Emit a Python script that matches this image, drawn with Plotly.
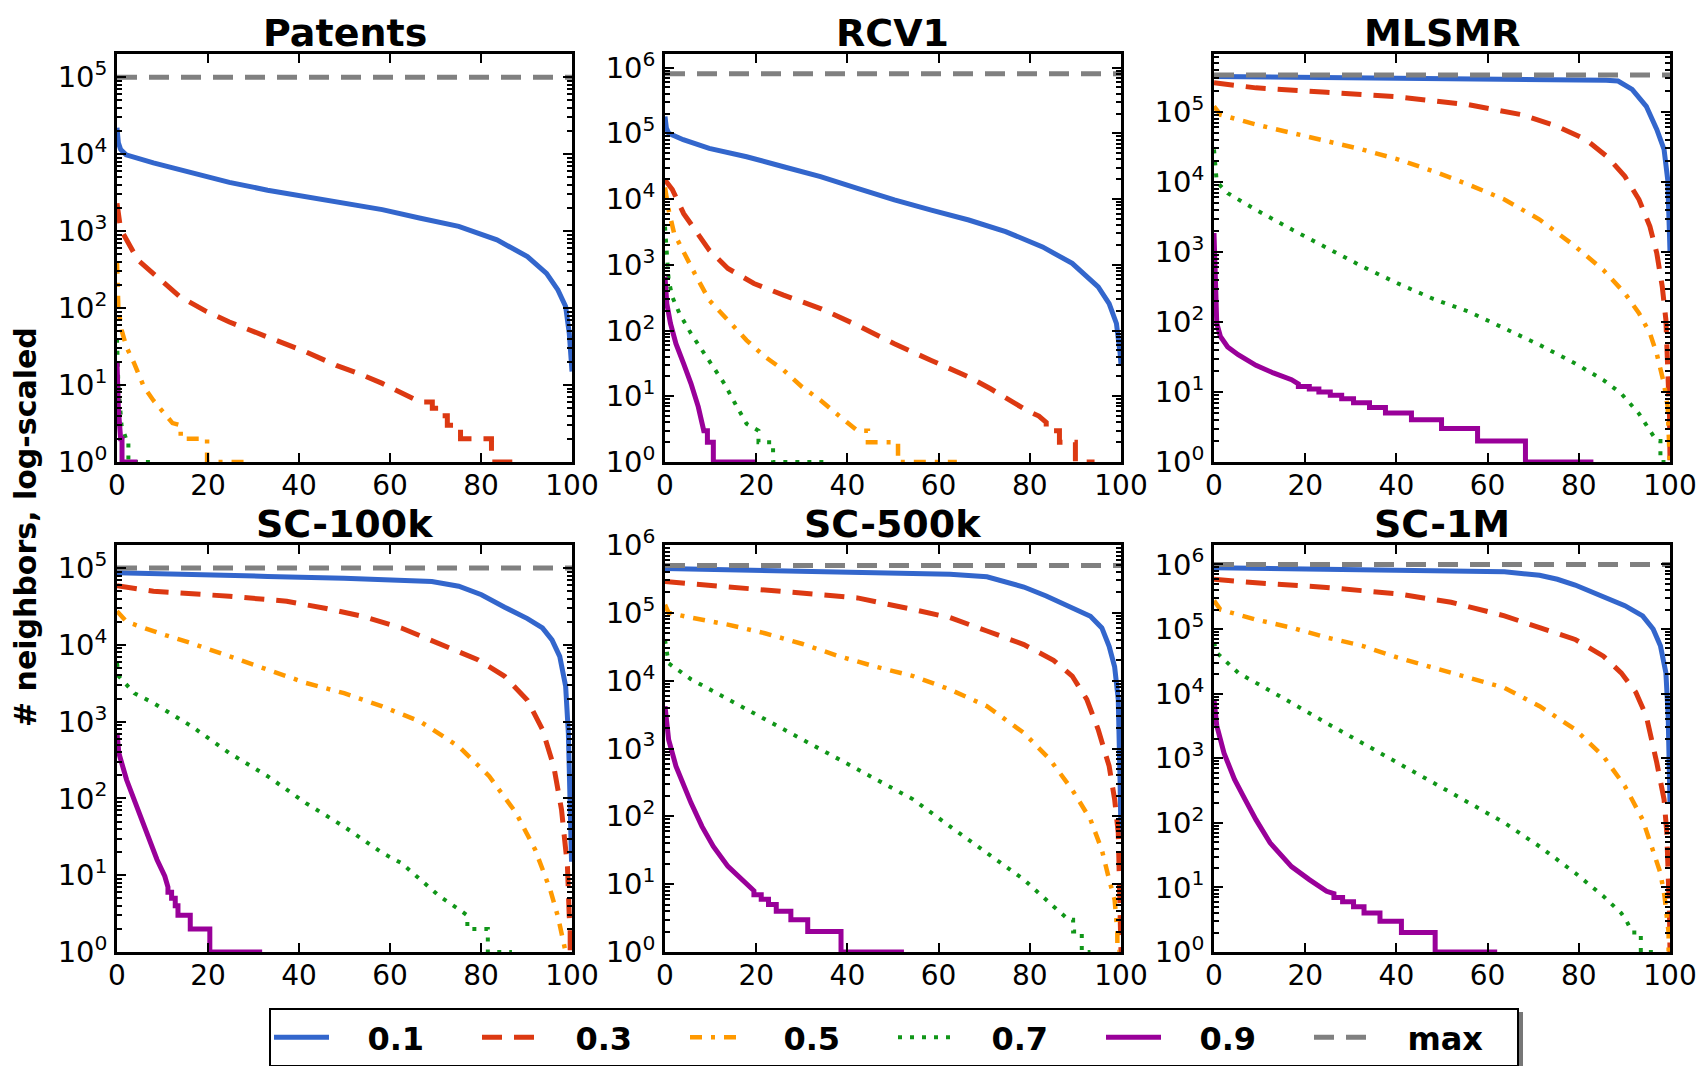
import math
import plotly.graph_objects as go

# ---------------- data ----------------
LEVELS = ["0.1", "0.3", "0.5", "0.7", "0.9"]
TITLES = ["Patents", "RCV1", "MLSMR", "SC-100k", "SC-500k", "SC-1M"]
MAXES = [100000, 804414, 335000, 100000, 500000, 1000000]
X_TICKS = [0, 20, 40, 60, 80, 100]
Y_LABEL = "# neighbors, log-scaled"

# Patents
PAT_X_01 = [0, 0.3, 0.8, 2, 8, 16.4, 24.7, 33.1, 41.5, 49.9, 58.3, 66.7, 75.1, 83.5, 90.2, 94.4, 96.9, 98.6, 99.4, 99.8, 100]
PAT_Y_01 = [22000, 14000, 11500, 9800, 7700, 5700, 4300, 3400, 2800, 2300, 1900, 1470, 1150, 770, 466, 283, 172, 105, 47, 22, 15]
PAT_X_03 = [0, 0.3, 0.8, 1.3, 4.6, 9.6, 13.8, 19.7, 24.7, 33.1, 41.5, 48.2, 53.3, 58.3, 62.5, 64.5, 66.7, 69.3, 69.3, 71, 71, 72.6, 72.6, 75.5, 75.5, 82.3, 82.3, 89]
PAT_Y_03 = [2300, 1500, 1050, 940, 420, 232, 141, 90, 66, 42, 27, 18, 14, 10.5, 8, 7, 6, 6, 5, 5, 4, 4, 3, 3, 2, 2, 1, 1]
PAT_X_05 = [0, 0.3, 1, 2.1, 3.8, 5.9, 8, 10, 12.2, 14, 14, 19.8, 19.8, 29]
PAT_Y_05 = [400, 100, 52, 31, 19, 9.5, 6.3, 4.5, 3.2, 3, 2, 2, 1, 1]
PAT_X_07 = [0, 0.3, 1, 2, 2.5, 2.5, 8]
PAT_Y_07 = [40, 10, 3, 2, 2, 1, 1]
PAT_X_09 = [0, 0.3, 0.8, 1.1, 1.1, 4.5]
PAT_Y_09 = [20, 5, 2, 2, 1, 1]

# RCV1
RCV_X_01 = [0, 0.3, 0.8, 4, 9.7, 17.9, 26, 34.1, 42.2, 50.3, 58.4, 66.6, 74.7, 82.8, 89.3, 95, 97.4, 99, 99.8, 100]
RCV_Y_01 = [180000, 120000, 100000, 80000, 59000, 44000, 31000, 22000, 14500, 9700, 6800, 4800, 3200, 1870, 1050, 460, 256, 128, 45, 30]
RCV_X_03 = [0, 1.6, 4.1, 6.5, 9.7, 13.8, 19.5, 26, 34.1, 42.2, 50.3, 58.4, 66.6, 71.4, 75.5, 79.5, 82, 83.6, 83.6, 86.5, 86.5, 90, 90, 94.2]
RCV_Y_03 = [19500, 14000, 6000, 3400, 1670, 880, 520, 345, 216, 120, 63, 35, 19.7, 13, 8.7, 6, 5, 4, 3, 3, 2, 2, 1, 1]
RCV_X_05 = [0, 0.8, 2, 4.1, 6.5, 9.7, 13.8, 17.9, 21.9, 26, 30, 34.1, 38.1, 42.2, 44.5, 44.5, 51.1, 51.1, 64]
RCV_Y_05 = [15000, 6800, 3000, 1500, 740, 290, 144, 71, 40, 25, 14, 8.7, 5.1, 3, 3, 2, 2, 1, 1]
RCV_X_07 = [0, 0.4, 0.8, 1.6, 3.2, 5.7, 8.1, 10.6, 13, 15.4, 17.9, 20.5, 20.5, 23.7, 23.7, 35.7]
RCV_Y_07 = [3800, 1500, 590, 325, 180, 90, 50, 28, 15.6, 7.7, 3.8, 3, 2, 2, 1, 1]
RCV_X_09 = [0, 0.4, 1.2, 2.4, 4.1, 5.7, 7.3, 8.5, 9.3, 9.3, 10.6, 10.6, 19.9]
RCV_Y_09 = [660, 257, 128, 63, 31, 15.6, 6.9, 3, 3, 2, 2, 1, 1]

# MLSMR
MLS_X_01 = [0, 20, 40, 60, 80, 86, 88.6, 91.7, 94.8, 97.1, 98.7, 99.5, 99.85, 100]
MLS_Y_01 = [320000, 312000, 305000, 298000, 290000, 282000, 275000, 209000, 120000, 56000, 29000, 10700, 2100, 1000]
MLS_X_03 = [0, 9.2, 24.7, 40.3, 55.9, 67.5, 75.3, 81.6, 86.2, 90.1, 93.2, 95.6, 97.1, 98.3, 99.1, 99.6, 99.9, 100]
MLS_Y_03 = [260000, 220000, 190000, 164000, 126000, 91000, 62000, 40000, 23000, 12000, 5600, 2300, 960, 320, 107, 23, 4.4, 1]
MLS_X_05 = [0, 1.4, 9.2, 17, 24.7, 32.5, 40.3, 48.1, 55.9, 63.7, 71.4, 79.2, 85.4, 90.1, 93.2, 95.6, 97.1, 98.7, 99.5, 99.8, 99.95]
MLS_Y_05 = [120000, 91000, 66000, 50000, 38000, 29000, 21000, 14200, 9100, 5600, 2900, 1200, 550, 257, 133, 69, 35, 13, 6.1, 2.5, 1]
MLS_X_07 = [0, 0.6, 3, 9.2, 17, 24.7, 32.5, 40.3, 48.1, 55.9, 63.7, 71.4, 79.2, 85.4, 89.3, 93.2, 95.6, 97.1, 97.9, 97.9, 99]
MLS_Y_07 = [29000, 10000, 6900, 4000, 2100, 1130, 620, 355, 213, 140, 81, 47, 25.6, 14.8, 9.5, 4.9, 2.8, 2, 2, 1, 1]
MLS_X_09 = [0, 0.3, 0.6, 1.4, 3, 5.3, 9.2, 13, 17, 18.5, 18.5, 20.9, 20.9, 23, 23, 25.5, 25.5, 28, 28, 30.6, 30.6,
            34.1, 34.1, 37.6, 37.6, 43.3, 43.3, 49.9, 49.9, 57.8, 57.8, 68.3, 68.3, 83.2]
MLS_Y_09 = [1860, 206, 96, 62, 44, 34, 24, 18.7, 15, 13, 12, 12, 11, 11, 10, 10, 9, 9, 8, 8, 7,
            7, 6, 6, 5, 5, 4, 4, 3, 3, 2, 2, 1, 1]

# SC-100k
S1_X_01 = [0, 16.4, 33.1, 49.9, 62.5, 69.2, 75.1, 80.1, 85.2, 90.2, 93.5, 95.6, 97.3, 98.6, 99.2, 99.7, 99.9]
S1_Y_01 = [87000, 81000, 78000, 74000, 70000, 67000, 58000, 45000, 31000, 22000, 16600, 11600, 7100, 2900, 710, 96, 15]
S1_X_03 = [0, 8, 24.7, 37.3, 45.7, 54.1, 62.5, 70.9, 79.3, 85.2, 90.2, 93.5, 96, 97.7, 99, 99.4, 99.6, 99.6, 99.8]
S1_Y_03 = [59000, 50000, 43000, 37000, 30000, 23500, 16600, 10500, 6400, 3900, 1900, 790, 260, 71, 13, 2.9, 2, 1, 1]
S1_X_05 = [0, 2.1, 9.6, 16.4, 24.7, 33.1, 41.5, 49.9, 58.3, 66.7, 75.1, 81.8, 87.7, 91.9, 95.2, 96.9, 98.2, 98.6, 99.2]
S1_Y_05 = [27500, 20000, 14000, 10500, 7100, 4800, 3200, 2350, 1580, 1000, 475, 195, 65, 21.5, 6.5, 2.9, 1.3, 1, 1]
S1_X_07 = [0, 0.4, 3.8, 8, 16.4, 24.7, 33.1, 41.5, 49.9, 58.3, 62.5, 66.7, 70.9, 75.1, 77, 77, 81.5, 81.5, 86.8]
S1_Y_07 = [5800, 3900, 2350, 1750, 870, 390, 195, 87, 43, 19.5, 14.4, 8.7, 5.3, 3.6, 3, 2, 2, 1, 1]
S1_X_09 = [0, 0.4, 2.1, 3.8, 5.5, 7.1, 8.8, 10.5, 11.2, 11.2, 12, 12, 12.8, 12.8, 13.4, 13.4, 16.1, 16.1, 20.4, 20.4, 31.9]
S1_Y_09 = [710, 390, 175, 96, 53, 29, 15.9, 9.7, 7, 6, 6, 5, 5, 4, 4, 3, 3, 2, 2, 1, 1]

# SC-500k
S5_X_01 = [0, 21.9, 46.3, 62.5, 70.6, 74.7, 78.7, 83.6, 88.5, 93.3, 95.8, 97.4, 98.6, 99.4, 99.8, 100]
S5_Y_01 = [450000, 420000, 390000, 370000, 340000, 290000, 240000, 177000, 126000, 89000, 60000, 32000, 16000, 5300, 310, 50]
S5_X_03 = [0, 13.8, 30, 42.2, 54.4, 62.5, 70.6, 78.7, 85.2, 89.3, 92.5, 95, 97.4, 98.6, 99.4, 99.7, 99.9, 100]
S5_Y_03 = [290000, 240000, 200000, 166000, 112000, 85000, 54000, 34000, 20000, 11700, 5300, 1900, 550, 178, 57, 10, 3.4, 1]
S5_X_05 = [0, 0.8, 5.7, 13.8, 21.9, 30, 38.1, 46.3, 54.4, 62.5, 70.6, 78.7, 84.4, 89.3, 93.3, 95.8, 97.4, 98.6, 99.2, 99.2, 99.5]
S5_Y_05 = [132000, 100000, 85000, 67000, 50000, 35000, 23000, 16000, 11700, 7400, 4200, 1700, 690, 246, 90, 32, 11.7, 5.9, 2, 1, 1]
S5_X_07 = [0, 0.8, 5.7, 13.8, 21.9, 30, 38.1, 46.3, 54.4, 62.5, 70.6, 78.7, 85.2, 88.5, 89.5, 89.5, 91.4, 91.4, 93.3]
S5_Y_07 = [40000, 18000, 10500, 5300, 2700, 1350, 690, 347, 178, 71, 29, 11.7, 4.7, 3, 3, 2, 2, 1, 1]
S5_X_09 = [0, 0.8, 2.4, 4.1, 5.7, 8.1, 10.6, 13.8, 17, 19.5, 19.5, 21.1, 21.1, 22.7, 22.7, 24.4, 24.4, 27.6, 27.6,
           31.3, 31.3, 38.6, 38.6, 52.4]
S5_Y_09 = [4200, 1350, 550, 277, 158, 71, 36, 18.3, 11.7, 8, 7, 7, 6, 6, 5, 5, 4, 4, 3,
           3, 2, 2, 1, 1]

# SC-1M
S10_X_01 = [0, 24.7, 48.1, 63.7, 71.4, 75.3, 79.2, 85.4, 90.1, 94, 96.3, 97.9, 99.1, 99.6, 99.8, 100]
S10_Y_01 = [890000, 850000, 800000, 770000, 680000, 590000, 480000, 320000, 230000, 160000, 100000, 55000, 21000, 4500, 960, 200]
S10_X_03 = [0, 9.2, 24.7, 40.3, 52, 63.7, 71.4, 79.2, 85.4, 89.3, 92.5, 94.8, 97.1, 98.7, 99.3, 99.6, 99.9, 100]
S10_Y_03 = [590000, 520000, 440000, 350000, 260000, 160000, 105000, 69000, 38000, 21000, 10500, 4500, 850, 230, 70, 21, 3.6, 1]
S10_X_05 = [0, 1.4, 9.2, 17, 24.7, 32.5, 40.3, 48.1, 55.9, 63.7, 71.4, 79.2, 85.4, 90.1, 94, 96.3, 97.9, 98.8, 99.4, 99.7, 99.7, 99.9]
S10_Y_05 = [275000, 200000, 140000, 105000, 74000, 55000, 36000, 25000, 17800, 12300, 6400, 2800, 1070, 370, 112, 39, 16.7, 7.3, 3.2, 2, 1, 1]
S10_X_07 = [0, 0.6, 5.3, 9.2, 17, 24.7, 32.5, 40.3, 48.1, 55.9, 63.7, 71.4, 79.2, 85.4, 89.3, 90.5, 91.7, 93.6, 93.6, 96.3]
S10_Y_07 = [62000, 43000, 21000, 14800, 7200, 3500, 1740, 850, 417, 204, 100, 43, 16.7, 7.3, 4, 3, 2, 2, 1, 1]
S10_X_09 = [0, 0.6, 2.2, 4.5, 6.8, 9.2, 12.3, 17, 20.9, 24.7, 26.3, 26.3, 28.2, 28.2, 30.6, 30.6, 32.9, 32.9, 36.4, 36.4,
            41.1, 41.1, 48.5, 48.5, 62.1]
S10_Y_09 = [8100, 3200, 1200, 470, 230, 112, 49, 21, 13.2, 8.7, 8, 7, 7, 6, 6, 5, 5, 4, 4, 3,
            3, 2, 2, 1, 1]

SERIES = [
    [(PAT_X_01, PAT_Y_01), (PAT_X_03, PAT_Y_03), (PAT_X_05, PAT_Y_05), (PAT_X_07, PAT_Y_07), (PAT_X_09, PAT_Y_09)],
    [(RCV_X_01, RCV_Y_01), (RCV_X_03, RCV_Y_03), (RCV_X_05, RCV_Y_05), (RCV_X_07, RCV_Y_07), (RCV_X_09, RCV_Y_09)],
    [(MLS_X_01, MLS_Y_01), (MLS_X_03, MLS_Y_03), (MLS_X_05, MLS_Y_05), (MLS_X_07, MLS_Y_07), (MLS_X_09, MLS_Y_09)],
    [(S1_X_01, S1_Y_01), (S1_X_03, S1_Y_03), (S1_X_05, S1_Y_05), (S1_X_07, S1_Y_07), (S1_X_09, S1_Y_09)],
    [(S5_X_01, S5_Y_01), (S5_X_03, S5_Y_03), (S5_X_05, S5_Y_05), (S5_X_07, S5_Y_07), (S5_X_09, S5_Y_09)],
    [(S10_X_01, S10_Y_01), (S10_X_03, S10_Y_03), (S10_X_05, S10_Y_05), (S10_X_07, S10_Y_07), (S10_X_09, S10_Y_09)],
]

# ---------------- styles ----------------
FONT = "DejaVu Sans"
STYLE = {
    "0.1": dict(color="#3366CC", width=5, dash="solid"),
    "0.3": dict(color="#DC3912", width=5, dash="20px,12px"),
    "0.5": dict(color="#FF9900", width=4.5, dash="12px,9px,4px,9px"),
    "0.7": dict(color="#109618", width=4, dash="4px,8px"),
    "0.9": dict(color="#990099", width=5, dash="solid"),
    "max": dict(color="#808080", width=5, dash="20px,12px"),
}
NBSP = "\u00a0"

W, H = 1705, 1066
COL_PX = [(117, 572), (665, 1121), (1214, 1670)]
ROW_PX = [(54, 462), (545, 952)]

fig = go.Figure()
layout = dict(width=W, height=H, margin=dict(l=0, r=0, t=0, b=0, autoexpand=False),
              paper_bgcolor="white", plot_bgcolor="white",
              font=dict(family=FONT, color="black"), showlegend=True)
annotations = []

minor_vals = [m * 10 ** k for k in range(0, 7) for m in range(2, 10)]

for i, title in enumerate(TITLES):
    r, c = divmod(i, 3)
    n = i + 1
    xs = "" if n == 1 else str(n)
    xd = [COL_PX[c][0] / W, COL_PX[c][1] / W]
    yd = [1 - ROW_PX[r][1] / H, 1 - ROW_PX[r][0] / H]
    top = math.log10(2 * MAXES[i])
    kmax = int(math.floor(top + 1e-9))
    layout["xaxis" + xs] = dict(
        domain=xd, anchor="y" + xs, range=[0, 100], tickmode="array", tickvals=X_TICKS,
        ticktext=[str(v) for v in X_TICKS], ticks="inside", ticklen=9, tickwidth=2, tickcolor="black",
        showline=True, linecolor="black", linewidth=2.5, mirror="ticks", showgrid=False, zeroline=False,
        tickfont=dict(size=28, family=FONT, color="black"), ticklabelstandoff=-3,
    )
    layout["yaxis" + xs] = dict(
        domain=yd, anchor="x" + xs, type="log", range=[0, top], tickmode="array",
        tickvals=[10 ** k for k in range(0, kmax + 1)],
        ticktext=["10<sup>%d</sup>" % k for k in range(0, kmax + 1)],
        ticks="inside", ticklen=9, tickwidth=2, tickcolor="black",
        minor=dict(tickmode="array", tickvals=minor_vals, ticks="inside", ticklen=5, tickwidth=1.5,
                   tickcolor="black", showgrid=False),
        showline=True, linecolor="black", linewidth=2.5, mirror="ticks", showgrid=False, zeroline=False,
        tickfont=dict(size=29, family=FONT, color="black"), ticklabelstandoff=1,
    )
    for lvl, (sx, sy) in zip(LEVELS, SERIES[i]):
        st = STYLE[lvl]
        fig.add_trace(go.Scatter(
            x=sx, y=sy, mode="lines", name=NBSP * 3 + lvl, legendgroup=lvl, showlegend=(i == 0),
            line=dict(color=st["color"], width=st["width"], dash=st["dash"]),
            xaxis="x" + xs, yaxis="y" + xs, hoverinfo="skip"))
    st = STYLE["max"]
    fig.add_trace(go.Scatter(
        x=[0, 100], y=[MAXES[i], MAXES[i]], mode="lines", name=NBSP * 3 + "max", legendgroup="max",
        showlegend=(i == 0), line=dict(color=st["color"], width=st["width"], dash=st["dash"]),
        xaxis="x" + xs, yaxis="y" + xs, hoverinfo="skip"))
    annotations.append(dict(
        text="<b>%s</b>" % title, x=(xd[0] + xd[1]) / 2, y=yd[1], xref="paper", yref="paper",
        xanchor="center", yanchor="bottom", yshift=-2, borderpad=0, showarrow=False,
        font=dict(size=38, family=FONT, color="black")))

annotations.append(dict(
    text="<b>%s</b>" % Y_LABEL, x=25 / W, y=1 - 527 / H, xref="paper", yref="paper",
    xanchor="center", yanchor="middle", textangle=-90, showarrow=False,
    font=dict(size=30, family=FONT, color="black")))

layout["annotations"] = annotations
LEG_X0, LEG_Y0, LEG_X1, LEG_Y1 = 269, 1008, 1519, 1064
layout["shapes"] = [dict(type="rect", xref="paper", yref="paper",
                         x0=(LEG_X0 + 4) / W, x1=(LEG_X1 + 4) / W,
                         y0=1 - (LEG_Y1 + 4) / H, y1=1 - (LEG_Y0 + 4) / H,
                         fillcolor="#777777", line=dict(width=0), layer="above")]
layout["legend"] = dict(
    orientation="h", x=LEG_X0 / W, y=1 - LEG_Y0 / H, xanchor="left", yanchor="top",
    bgcolor="white", bordercolor="black", borderwidth=2,
    font=dict(size=32, family=FONT, color="black", weight="bold"),
    entrywidth=138, entrywidthmode="pixels", itemwidth=55, tracegroupgap=0,
)
fig.update_layout(**layout)
fig.write_html("out.html", config={"displayModeBar": False},
               post_script="document.body.style.margin='0';document.body.style.overflow='hidden';")
